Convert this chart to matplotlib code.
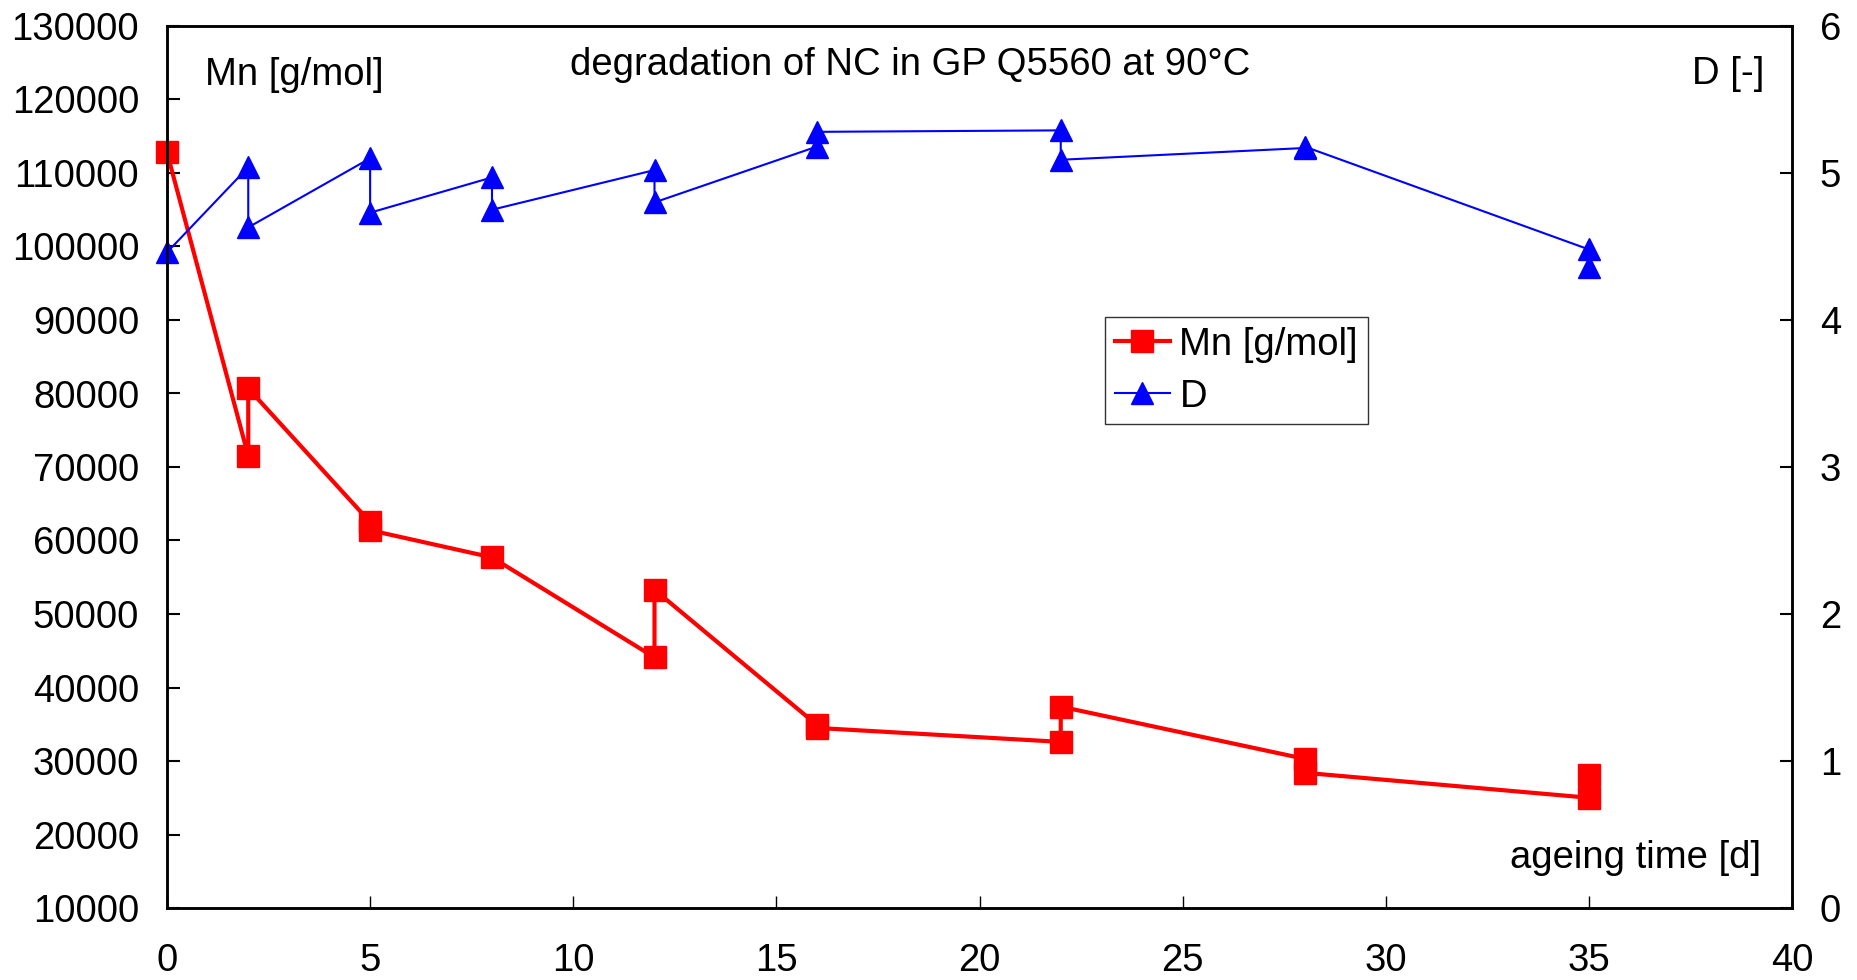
import matplotlib
matplotlib.use("Agg")
import matplotlib.pyplot as plt

plt.rcParams['font.family'] = ['Liberation Sans', 'DejaVu Sans']

# Data (two measurements per ageing time, in plotting order)
mn_time = [0, 2, 2, 5, 5, 8, 12, 12, 16, 16, 22, 22, 28, 28, 35, 35]
mn_values = [112800, 71500, 80700, 62500, 61400, 57700, 44100, 53300,
             34900, 34500, 32600, 37400, 30300, 28400, 25000, 28100]

d_time = [0, 2, 2, 5, 5, 8, 8, 12, 12, 16, 16, 22, 22, 28, 28, 35, 35]
d_values = [4.46, 5.04, 4.63, 5.10, 4.73, 4.97, 4.75, 5.02, 4.80,
            5.18, 5.28, 5.29, 5.09, 5.17, 5.18, 4.48, 4.36]

x_ticks = [0, 5, 10, 15, 20, 25, 30, 35, 40]
left_ticks = list(range(10000, 130001, 10000))
right_ticks = [0, 1, 2, 3, 4, 5, 6]

W, H = 1857, 980
fig = plt.figure(figsize=(W / 100, H / 100), dpi=100)
ax = fig.add_axes([167 / W, 1 - 908 / H, (1792 - 167) / W, (908 - 26) / H])
ax2 = ax.twinx()

l1, = ax.plot(mn_time, mn_values, color='#ff0000', lw=3.0, marker='s',
              markersize=16, markeredgecolor='#ff0000', label='Mn [g/mol]',
              clip_on=False)
l2, = ax2.plot(d_time, d_values, color='#0000ff', lw=1.5, marker='^',
               markersize=16, markeredgecolor='#0000ff', label='D',
               clip_on=False)

ax.set_xlim(0, 40)
ax.set_ylim(10000, 130000)
ax2.set_ylim(0, 6)
ax.set_xticks(x_ticks)
ax.set_yticks(left_ticks)
ax2.set_yticks(right_ticks)

fs = 27.5
for a in (ax, ax2):
    for s in a.spines.values():
        s.set_linewidth(1.8)
        s.set_color('black')
ax.tick_params(axis='x', direction='in', length=9, width=1.0, labelsize=fs, pad=25)
ax.tick_params(axis='y', direction='in', length=9, width=1.5, labelsize=fs, pad=20)
ax2.tick_params(axis='y', direction='in', length=9, width=1.5, labelsize=fs, pad=20)

fig.text(205 / W, 1 - 75 / H, 'Mn [g/mol]', fontsize=fs, ha='left', va='center')
fig.text(910 / W, 1 - 65 / H, 'degradation of NC in GP Q5560 at 90°C',
         fontsize=fs, ha='center', va='center')
fig.text(1764 / W, 1 - 74 / H, 'D [-]', fontsize=fs, ha='right', va='center')
fig.text(1761 / W, 1 - 858 / H, 'ageing time [d]', fontsize=fs, ha='right', va='center')

leg = ax2.legend(handles=[l1, l2], loc='upper left',
                 bbox_to_anchor=(1105 / W, 1 - 317 / H), bbox_transform=fig.transFigure,
                 fontsize=fs, frameon=True, fancybox=False, shadow=False,
                 borderpad=0.25, labelspacing=0.42, handlelength=1.45,
                 handletextpad=0.25, borderaxespad=0)
leg.get_frame().set_edgecolor('black')
leg.get_frame().set_linewidth(1.0)

fig.savefig('out.png', dpi=100)
